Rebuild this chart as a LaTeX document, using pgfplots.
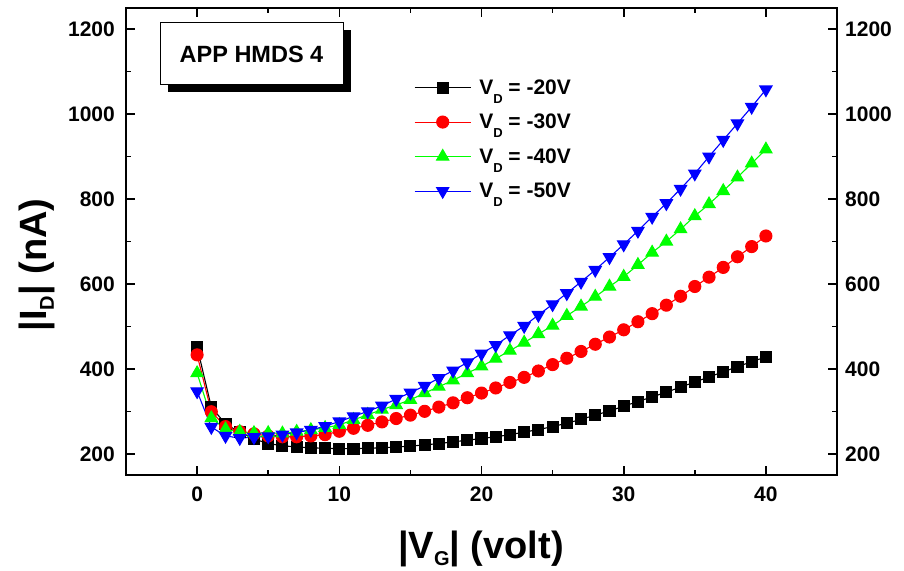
\documentclass[border=0pt]{standalone}
\usepackage{fontspec}
\setmainfont{Liberation Sans}
\usepackage{pgfplots}
\pgfplotsset{compat=1.18}

% subscripts set the way the plotting program drew them
\newcommand{\lsub}[1]{\raisebox{-9pt}{\fontsize{13}{13}\selectfont #1}}
\newcommand{\asub}[1]{\raisebox{-7pt}{\fontsize{20}{20}\selectfont #1}}

\pgfplotsset{
  idbox/.style={
    at={(0pt,0pt)}, anchor=south west,
    scale only axis, width=711pt, height=467pt,
    xmin=-5, xmax=45, ymin=150, ymax=1250,
    ytick={200,400,...,1200},
    /pgf/number format/assume math mode=true,
    /pgf/number format/1000 sep={},
    ticklabel style={font=\fontsize{21}{21}\selectfont\bfseries, inner sep=0pt},
  },
}

\begin{document}
\begin{tikzpicture}
\path[use as bounding box] (-126pt,-95pt) rectangle (778pt,475pt);

\begin{axis}[
    idbox,
    xtick={0,10,...,40},
    minor x tick num=1, minor y tick num=1,
    tick align=inside,
    major tick length=9pt, minor tick length=5pt,
    tick style={black, line width=1.6pt},
    axis line style={line width=2pt},
    xticklabel style={yshift=-12pt},
    yticklabel style={xshift=-11pt},
    legend style={draw=none, fill=none, at={(0.405,0.867)}, anchor=north west,
      inner sep=0pt, column sep=8pt,
      nodes={inner sep=0pt, minimum height=34.5pt,
        font=\fontsize{21}{21}\selectfont\bfseries}},
    legend cell align=left,
    legend image code/.code={
      \draw[mark repeat=2, mark phase=2, #1] plot coordinates {(0pt,0pt) (28pt,0pt) (56pt,0pt)};},
]
\addplot[black, line width=1.1pt, mark=square*, mark size=5.5pt, mark options={solid}] coordinates {
(0,452) (1,310) (2,270) (3,251) (4,235) (5,224) (6,219) (7,216) (8,214) (9,213)
(10,212) (11,212) (12,213) (13,214) (14,216) (15,218) (16,221) (17,224) (18,228) (19,232)
(20,236) (21,240) (22,245) (23,251) (24,257) (25,264) (26,272) (27,281) (28,291) (29,301)
(30,312) (31,323) (32,334) (33,345) (34,357) (35,369) (36,381) (37,393) (38,405) (39,417)
(40,428)};
\addplot[red, line width=1.1pt, mark=*, mark size=6pt, mark options={solid}] coordinates {
(0,433) (1,299) (2,264) (3,252) (4,247) (5,242) (6,240) (7,240) (8,242) (9,245)
(10,253) (11,260) (12,267) (13,275) (14,283) (15,291) (16,300) (17,310) (18,320) (19,332)
(20,343) (21,355) (22,368) (23,380) (24,395) (25,410) (26,425) (27,441) (28,458) (29,475)
(30,492) (31,511) (32,530) (33,550) (34,571) (35,594) (36,616) (37,639) (38,664) (39,688)
(40,713)};
\addplot[green, line width=1.1pt, mark=triangle*, mark size=7pt, mark options={solid}] coordinates {
(0,390) (1,284) (2,258) (3,252) (4,249) (5,249) (6,248) (7,252) (8,256) (9,261)
(10,268) (11,280) (12,292) (13,304) (14,315) (15,327) (16,343) (17,358) (18,373) (19,390)
(20,406) (21,424) (22,443) (23,462) (24,482) (25,502) (26,525) (27,547) (28,570) (29,594)
(30,617) (31,645) (32,674) (33,700) (34,729) (35,760) (36,788) (37,819) (38,851) (39,884)
(40,917)};
\addplot[blue, line width=1.1pt, mark=triangle*, mark size=7pt, mark options={solid, rotate=180}] coordinates {
(0,347) (1,263) (2,242) (3,237) (4,239) (5,241) (6,245) (7,250) (8,256) (9,265)
(10,276) (11,288) (12,300) (13,313) (14,329) (15,344) (16,360) (17,378) (18,396) (19,415)
(20,436) (21,456) (22,479) (23,501) (24,527) (25,552) (26,578) (27,605) (28,633) (29,663)
(30,693) (31,725) (32,758) (33,790) (34,824) (35,860) (36,900) (37,939) (38,978) (39,1017)
(40,1058)};
\legend{V\lsub{D} = -20V, V\lsub{D} = -30V, V\lsub{D} = -40V, V\lsub{D} = -50V}
\end{axis}

% tick labels repeated on the right-hand side
\begin{axis}[
    idbox,
    axis x line=none, axis y line*=right,
    y axis line style={draw=none},
    ytick style={draw=none}, minor y tick num=0,
    yticklabel pos=right,
    yticklabel style={xshift=8pt},
]
\addplot[draw=none] coordinates {(0,200)};
\end{axis}

% sample box with its shadow
\node[fill=black, minimum width=183pt, minimum height=62pt, inner sep=0pt] at (133.5pt,414pt) {};
\node[draw, line width=1pt, fill=white, minimum width=183pt, minimum height=62pt, inner sep=0pt,
  font=\fontsize{23.5}{23.5}\selectfont\bfseries] at (125.5pt,421pt) {APP HMDS 4};

\node[rotate=90, anchor=base, font=\fontsize{38}{38}\selectfont\bfseries] at (-79pt,210pt) {|I\asub{D}| (nA)};
\node[anchor=base, font=\fontsize{38}{38}\selectfont\bfseries] at (355pt,-83pt) {|V\asub{G}| (volt)};
\end{tikzpicture}
\end{document}
